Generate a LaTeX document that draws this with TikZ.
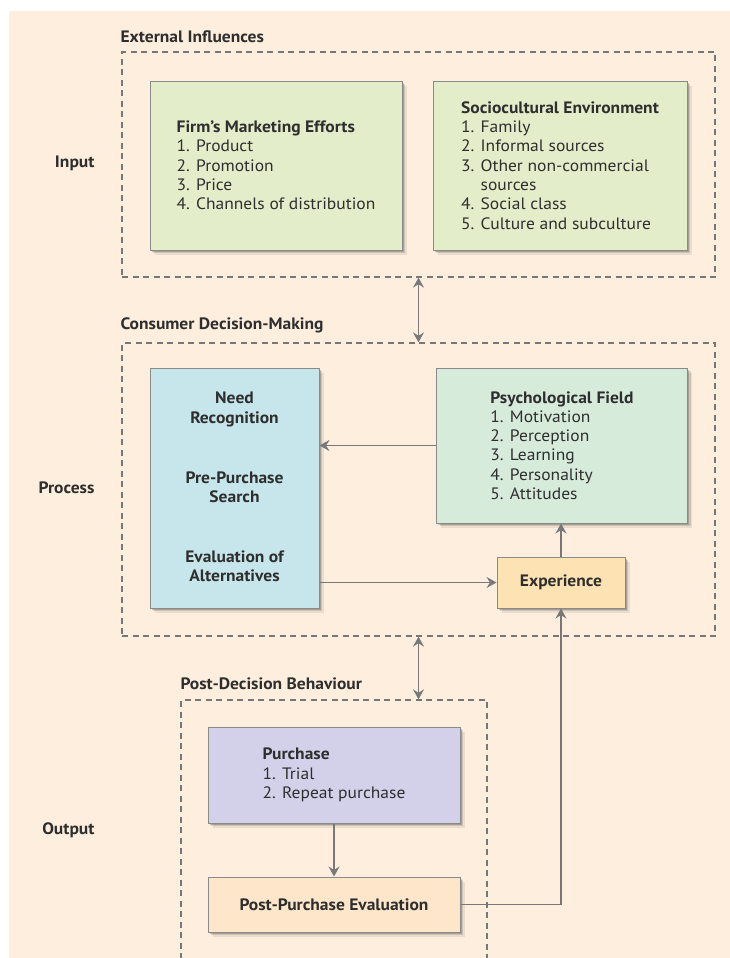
\documentclass[tikz,border=0pt]{standalone}
\usepackage{fontspec}
\setmainfont{PT Sans}[FakeStretch=1.06]
\usetikzlibrary{arrows.meta,shadows}
\definecolor{bgpeach}{HTML}{FDEEDD}
\definecolor{grnbox}{HTML}{E3EDC9}
\definecolor{bluebox}{HTML}{C6E6EB}
\definecolor{mintbox}{HTML}{D7EBDB}
\definecolor{expbox}{HTML}{FDE3B3}
\definecolor{lavbox}{HTML}{D3D1EA}
\definecolor{ppebox}{HTML}{FDE6CA}
\definecolor{edge}{HTML}{8A8A8A}
\definecolor{dash}{HTML}{777777}
\definecolor{arrowc}{HTML}{787878}
\definecolor{txt}{HTML}{2E2E2E}
\tikzset{
  every node/.style={text=txt, font=\fontsize{16.5pt}{19.3pt}\selectfont},
  box/.style={draw=edge, line width=1pt, inner sep=0pt,
    drop shadow={shadow xshift=1.5pt,shadow yshift=-1.5pt,opacity=.18,fill=black},
    drop shadow={shadow xshift=3pt,shadow yshift=-3pt,opacity=.12,fill=black},
    drop shadow={shadow xshift=4.5pt,shadow yshift=-4.5pt,opacity=.07,fill=black}},
  grp/.style={draw=dash, line width=1.3pt, dash pattern=on 6pt off 4.5pt, inner sep=0pt},
  grptitle/.style={anchor=west, font=\fontsize{16.5pt}{19pt}\selectfont\bfseries},
  rowlabel/.style={anchor=east, font=\fontsize{16.5pt}{19pt}\selectfont\bfseries},
  bt/.style={align=center, font=\fontsize{16.5pt}{19.3pt}\selectfont\bfseries},
  arr/.style={draw=arrowc, line width=1.7pt, -{Stealth[length=10pt,width=11pt,inset=3.5pt]}},
  dbl/.style={draw=arrowc, line width=1.7pt, {Stealth[length=10pt,width=11pt,inset=3.5pt]}-{Stealth[length=10pt,width=11pt,inset=3.5pt]}}
}
\begin{document}
\begin{tikzpicture}[x=1pt,y=-1pt]
\useasboundingbox (0,0) rectangle (730,958);
\clip (0,0) rectangle (730,958);
\fill[bgpeach] (9,11) rectangle (730,958);

% group frames
\node[grp, minimum width=593pt, minimum height=225pt] (extbox) at (418.5,164.5) {};
\node[grp, minimum width=593pt, minimum height=293pt] (cdmbox) at (418.5,489.5) {};
\node[grp, minimum width=306pt, minimum height=290pt] (pdbbox) at (334,845) {};

\node[grptitle] (t1) at (117,37) {External Influences};
\node[grptitle] (t2) at (117,325) {Consumer Decision-Making};
\node[grptitle] (t3) at (177,684) {Post-Decision Behaviour};

\node[rowlabel] (l1) at (98,163) {Input};
\node[rowlabel] (l2) at (98,488) {Process};
\node[rowlabel] (l3) at (98,830) {Output};

% boxes
\node[box, fill=grnbox, minimum width=252pt, minimum height=169pt, align=left] (firm) at (276,165.5)
  {\textbf{Firm's Marketing Efforts}\\1. Product\\2. Promotion\\3. Price\\4. Channels of distribution};
\node[box, fill=grnbox, minimum width=254pt, minimum height=169pt, align=left] (socio) at (560,165.5)
  {\textbf{Sociocultural Environment}\\1. Family\\2. Informal sources\\3. Other non-commercial\\\phantom{3. }sources\\4. Social class\\5. Culture and subculture};

\node[box, fill=bluebox, minimum width=169pt, minimum height=240pt] (dm) at (234.5,488) {};
\node[bt] (need) at (234.5,409.5) {Need\\Recognition};
\node[bt] (search) at (234.5,487.5) {Pre-Purchase\\Search};
\node[bt] (evalalt) at (234.5,566.5) {Evaluation of\\Alternatives};

\node[box, fill=mintbox, minimum width=251pt, minimum height=155pt, align=left] (psych) at (562,445.5)
  {\textbf{Psychological Field}\\1. Motivation\\2. Perception\\3. Learning\\4. Personality\\5. Attitudes};

\node[box, fill=expbox, minimum width=128pt, minimum height=51pt, font=\fontsize{16.5pt}{19pt}\selectfont\bfseries] (exp) at (561,582.5) {Experience};

\node[box, fill=lavbox, minimum width=252pt, minimum height=96pt, align=left] (purch) at (334,775)
  {\textbf{Purchase}\\1. Trial\\2. Repeat purchase};

\node[box, fill=ppebox, minimum width=252pt, minimum height=55pt, font=\fontsize{16.5pt}{19pt}\selectfont\bfseries] (ppe) at (334,904.5) {Post-Purchase Evaluation};

% connectors
\draw[dbl] (extbox.south) -- (cdmbox.north);
\draw[dbl] (cdmbox.south) -- (cdmbox.south |- pdbbox.north);
\draw[arr] (psych.west) -- (psych.west -| dm.east);
\draw[arr] (exp.west -| dm.east) -- (exp.west);
\draw[arr] (exp.north) -- (exp.north |- psych.south);
\draw[arr] (purch.south) -- (ppe.north);
\draw[arr] (ppe.east) -- (ppe.east -| exp.south) -- (exp.south);
\end{tikzpicture}
\end{document}
